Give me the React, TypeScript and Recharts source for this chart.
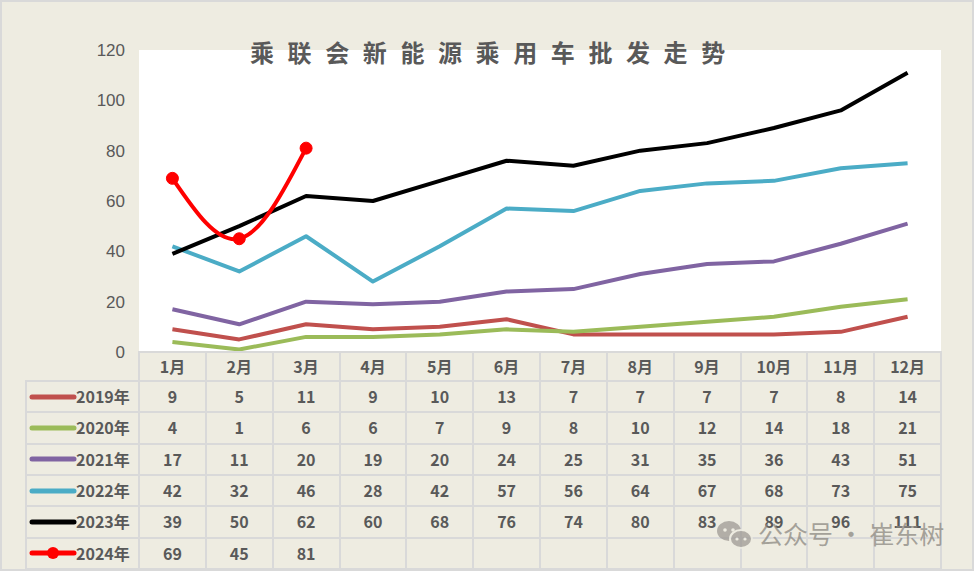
import { LineChart, Line, XAxis, YAxis, CartesianGrid } from "recharts";

const months = ["1月", "2月", "3月", "4月", "5月", "6月", "7月", "8月", "9月", "10月", "11月", "12月"];
const sales2019 = [9, 5, 11, 9, 10, 13, 7, 7, 7, 7, 8, 14];
const sales2020 = [4, 1, 6, 6, 7, 9, 8, 10, 12, 14, 18, 21];
const sales2021 = [17, 11, 20, 19, 20, 24, 25, 31, 35, 36, 43, 51];
const sales2022 = [42, 32, 46, 28, 42, 57, 56, 64, 67, 68, 73, 75];
const sales2023 = [39, 50, 62, 60, 68, 76, 74, 80, 83, 89, 96, 111];
const sales2024 = [69, 45, 81];
const yTicks = [0, 20, 40, 60, 80, 100, 120];
const title = "乘联会新能源乘用车批发走势";
const watermark = "公众号 · 崔东树";

const series = [
  { key: "y2019", label: "2019年", values: sales2019, color: "#C0504D", marker: false },
  { key: "y2020", label: "2020年", values: sales2020, color: "#9BBB59", marker: false },
  { key: "y2021", label: "2021年", values: sales2021, color: "#8064A2", marker: false },
  { key: "y2022", label: "2022年", values: sales2022, color: "#4BACC6", marker: false },
  { key: "y2023", label: "2023年", values: sales2023, color: "#000000", marker: false },
  { key: "y2024", label: "2024年", values: sales2024, color: "#FF0000", marker: true },
];

const data = months.map((m, i) => {
  const row: Record<string, string | number | undefined> = { month: m };
  for (const s of series) row[s.key] = s.values[i];
  return row;
});

// layout
const W = 974;
const H = 571;
const PLOT_L = 139;
const PLOT_R = 941;
const PLOT_T = 50;
const PLOT_B = 352;
const COL = (PLOT_R - PLOT_L) / 12;
const LEG_L = 26;
const HEAD_H = 29;
const ROW_H = 31.3;
const BG = "#EEECE1";
const GRID = "#D9D9D9";
const TEXT = "#595959";
const CJK = '"Noto Sans CJK SC", "Noto Sans", sans-serif';

function rowTop(r: number) {
  return PLOT_B + HEAD_H + r * ROW_H;
}

export default function App() {
  const tableBottom = rowTop(series.length);
  const cellText = {
    position: "absolute" as const,
    textAlign: "center" as const,
    fontFamily: CJK,
    fontWeight: 700,
    fontSize: 16,
    color: TEXT,
    whiteSpace: "nowrap" as const,
  };

  return (
    <div style={{ position: "relative", width: W, height: H, background: BG, overflow: "hidden" }}>
      <style>{"body{margin:0}"}</style>
      <div
        style={{
          position: "absolute", left: 0, top: 0, width: W, height: H,
          border: "2px solid " + GRID, boxSizing: "border-box",
        }}
      />

      <LineChart
        width={W}
        height={PLOT_B + 30}
        data={data}
        margin={{ top: PLOT_T, right: W - PLOT_R, left: PLOT_L - 60, bottom: 30 }}
        style={{ position: "absolute", left: 0, top: 0 }}
      >
        <CartesianGrid horizontal={false} vertical={false} fill="#ffffff" stroke="none" />
        <XAxis dataKey="month" hide padding={{ left: COL / 2, right: COL / 2 }} />
        <YAxis
          width={60}
          domain={[0, 120]}
          ticks={yTicks}
          axisLine={false}
          tickLine={false}
          tickMargin={8}
          tick={{ fill: TEXT, fontSize: 17, fontFamily: '"Liberation Sans", Arial, sans-serif' }}
        />
        {series.map((s) => (
          <Line
            key={s.key}
            dataKey={s.key}
            type={s.marker ? "natural" : "linear"}
            stroke={s.color}
            strokeWidth={4}
            strokeLinejoin="round"
            dot={s.marker ? { r: 6, fill: s.color, stroke: s.color, strokeWidth: 1 } : false}
            isAnimationActive={false}
          />
        ))}
      </LineChart>

      {/* data table grid */}
      <div style={{ position: "absolute", left: PLOT_L, top: PLOT_B - 1, width: PLOT_R - PLOT_L, height: 2, background: GRID }} />
      {series.map((s, r) => (
        <div key={"h" + s.key} style={{ position: "absolute", left: LEG_L, top: rowTop(r) - 1, width: PLOT_R - LEG_L, height: 2, background: GRID }} />
      ))}
      <div style={{ position: "absolute", left: LEG_L, top: tableBottom - 1, width: PLOT_R - LEG_L, height: 2, background: GRID }} />
      <div style={{ position: "absolute", left: LEG_L - 1, top: rowTop(0) - 1, width: 2, height: tableBottom - rowTop(0) + 2, background: GRID }} />
      {months.map((m, c) => (
        <div key={"v" + m} style={{ position: "absolute", left: PLOT_L + c * COL - 1, top: PLOT_B - 1, width: 2, height: tableBottom - PLOT_B + 2, background: GRID }} />
      ))}
      <div style={{ position: "absolute", left: PLOT_R - 1, top: PLOT_B - 1, width: 2, height: tableBottom - PLOT_B + 2, background: GRID }} />

      {months.map((m, c) => (
        <div
          key={"m" + m}
          style={{ ...cellText, left: PLOT_L + c * COL, top: PLOT_B, width: COL, height: HEAD_H, lineHeight: HEAD_H + "px" }}
        >
          {m}
        </div>
      ))}

      {series.map((s, r) => (
        <div key={"leg" + s.key}>
          <svg style={{ position: "absolute", left: 28, top: rowTop(r) + ROW_H / 2 - 8 }} width={50} height={16}>
            <line x1={4} y1={8} x2={46} y2={8} stroke={s.color} strokeWidth={5} strokeLinecap="round" />
            {s.marker && <circle cx={25} cy={8} r={6} fill={s.color} />}
          </svg>
          <div style={{ ...cellText, textAlign: "left", left: 76, top: rowTop(r), height: ROW_H, lineHeight: ROW_H + "px" }}>
            {s.label}
          </div>
          {s.values.map((v, c) => (
            <div
              key={c}
              style={{ ...cellText, left: PLOT_L + c * COL, top: rowTop(r), width: COL, height: ROW_H, lineHeight: ROW_H + "px" }}
            >
              {v}
            </div>
          ))}
        </div>
      ))}

      <div
        style={{
          position: "absolute", left: 250, top: 39, fontFamily: CJK, fontWeight: 700,
          fontSize: 24, lineHeight: "26px", letterSpacing: 13.6, color: TEXT, whiteSpace: "nowrap",
        }}
      >
        {title}
      </div>

      {/* watermark */}
      <svg style={{ position: "absolute", left: 715, top: 518, opacity: 0.75 }} width={40} height={34}>
        <ellipse cx={14} cy={13} rx={12} ry={10} fill="#9E9A94" />
        <ellipse cx={26} cy={21} rx={11} ry={9} fill="#9E9A94" stroke={BG} strokeWidth={2} />
        <circle cx={10} cy={12} r={1.8} fill={BG} />
        <circle cx={18} cy={12} r={1.8} fill={BG} />
        <circle cx={22} cy={21} r={1.6} fill={BG} />
        <circle cx={30} cy={21} r={1.6} fill={BG} />
      </svg>
      <div
        style={{
          position: "absolute", left: 758, top: 518, fontFamily: CJK, fontSize: 25,
          lineHeight: "30px", color: "rgba(140,136,130,0.75)", whiteSpace: "nowrap",
        }}
      >
        {watermark}
      </div>
    </div>
  );
}
